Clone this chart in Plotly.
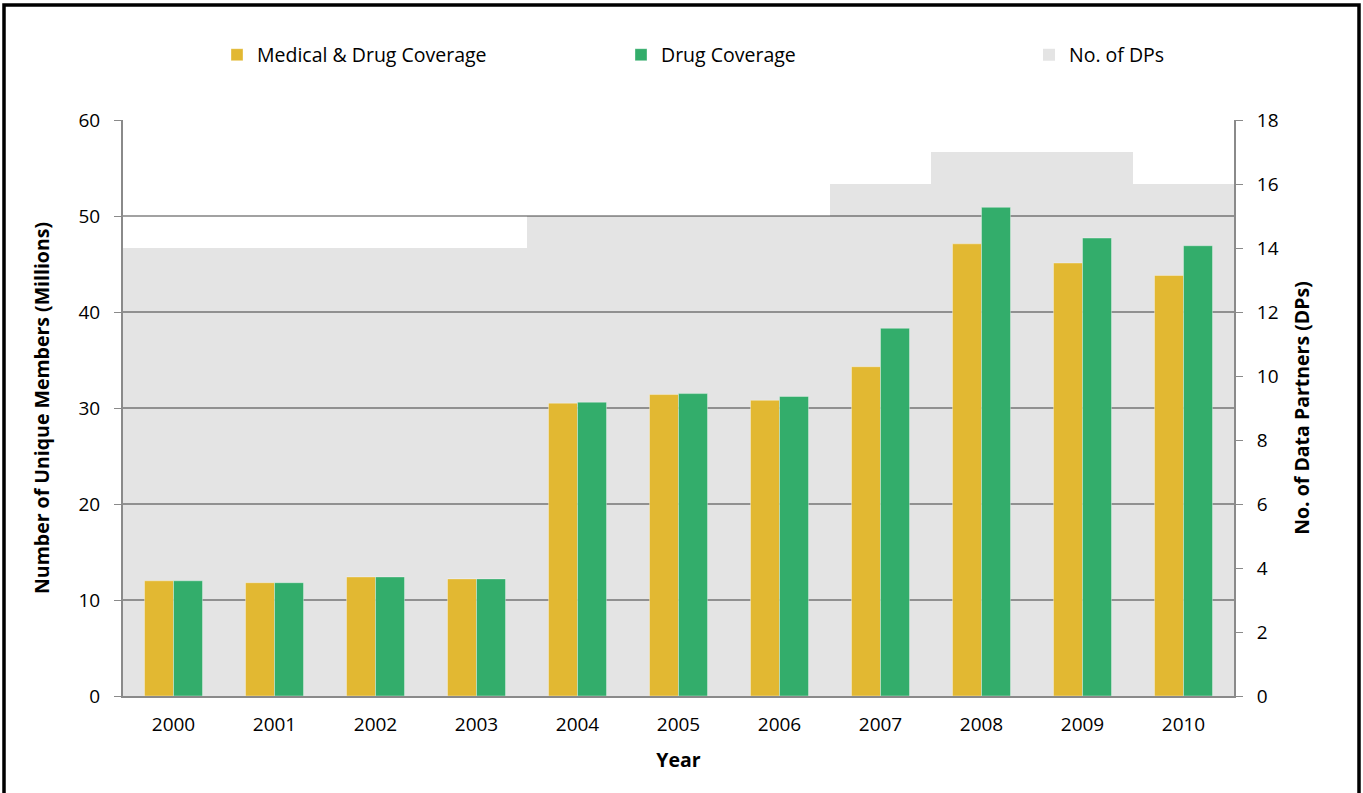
import plotly.graph_objects as go

years = ["2000", "2001", "2002", "2003", "2004", "2005", "2006", "2007", "2008", "2009", "2010"]
medical_drug = [12.0, 11.8, 12.4, 12.2, 30.5, 31.4, 30.8, 34.3, 47.1, 45.1, 43.8]
drug_only = [12.0, 11.8, 12.4, 12.2, 30.6, 31.5, 31.2, 38.3, 50.9, 47.7, 46.9]
num_dps = [14, 14, 14, 14, 15, 15, 15, 16, 17, 17, 16]

FONT = "Open Sans"
AXIS_GRAY = "#8a8a8a"
TICK_SIZE = 19
TEXT_SIZE = 19.5

fig = go.Figure()

# Background DP bars (primary y, drawn behind)
fig.add_trace(go.Bar(
    x=years, y=num_dps, name="No. of DPs", yaxis="y",
    marker=dict(color="rgba(0,0,0,0.105)", line=dict(width=0)),
    width=1.0, offset=-0.5, legend="legend3",
))

# Member bars (overlay y2)
fig.add_trace(go.Bar(
    x=years, y=medical_drug, name="Medical &amp; Drug Coverage", yaxis="y2",
    marker=dict(color="#E2B832", line=dict(width=1, color="rgba(255,255,255,0.35)")),
    width=0.287, offset=-0.287, legend="legend",
))
fig.add_trace(go.Bar(
    x=years, y=drug_only, name="Drug Coverage", yaxis="y2",
    marker=dict(color="#33AD6B", line=dict(width=1, color="rgba(255,255,255,0.35)")),
    width=0.287, offset=0.0, legend="legend2",
))

def leg(x):
    return dict(
        orientation="h", x=x, xanchor="left", y=(696 - 55) / 576, yanchor="middle",
        font=dict(family=FONT, size=TEXT_SIZE, color="#000000"),
        bgcolor="rgba(0,0,0,0)",
    )

fig.update_layout(
    width=1363, height=793,
    margin=dict(l=123, r=129, t=120, b=97),
    paper_bgcolor="white", plot_bgcolor="white",
    font=dict(family=FONT, size=TICK_SIZE, color="#000000"),
    barmode="overlay",
    showlegend=True,
    legend=leg((217 - 123) / 1111),
    legend2=leg((621 - 123) / 1111),
    legend3=leg((1029 - 123) / 1111),
    xaxis=dict(
        type="category", range=[-0.5, 10.5],
        showline=True, linecolor=AXIS_GRAY, linewidth=2,
        ticks="", ticklabelstandoff=10,
        tickfont=dict(family=FONT, size=TICK_SIZE),
        title=dict(text="<b>Year</b>", font=dict(family=FONT, size=TEXT_SIZE), standoff=18),
        showgrid=False,
    ),
    yaxis=dict(
        side="right", range=[0, 18], tickvals=list(range(0, 19, 2)),
        showgrid=False, zeroline=False,
        showline=True, linecolor=AXIS_GRAY, linewidth=2,
        ticks="outside", ticklen=7, tickcolor=AXIS_GRAY, tickwidth=1,
        ticklabelstandoff=10,
        tickfont=dict(family=FONT, size=TICK_SIZE),
        title=dict(text="<b>No. of Data Partners (DPs)</b>", font=dict(family=FONT, size=TEXT_SIZE), standoff=18),
    ),
    yaxis2=dict(
        side="left", overlaying="y", range=[0, 60], tickvals=list(range(0, 61, 10)),
        showgrid=True, gridcolor="#a2a2a2", gridwidth=2, zeroline=False,
        showline=True, linecolor=AXIS_GRAY, linewidth=2,
        ticks="outside", ticklen=7, tickcolor=AXIS_GRAY, tickwidth=1,
        ticklabelstandoff=10,
        tickfont=dict(family=FONT, size=TICK_SIZE),
        title=dict(text="<b>Number of Unique Members (Millions)</b>", font=dict(family=FONT, size=TEXT_SIZE), standoff=24),
    ),
    shapes=[
        dict(type="rect", xref="paper", yref="paper",
             x0=(4 - 123) / 1111, x1=(1359 - 123) / 1111,
             y0=-0.2, y1=(696 - 5) / 576,
             line=dict(color="black", width=3.5), fillcolor="rgba(0,0,0,0)", layer="above"),
    ],
)

fig.write_html("out.html", config={"displayModeBar": False},
               post_script="document.body.style.margin='0';")
